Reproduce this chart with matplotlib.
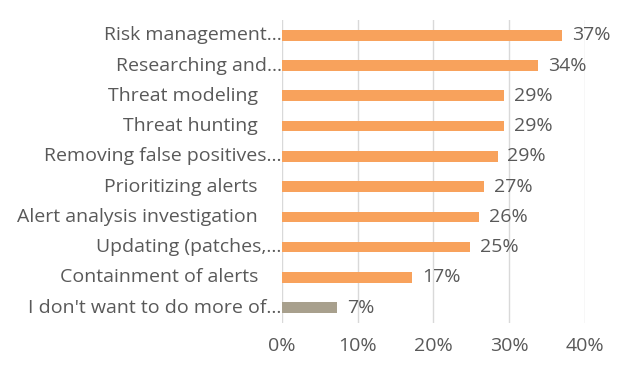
import matplotlib
matplotlib.use("Agg")
import matplotlib.pyplot as plt
import matplotlib.transforms as mtransforms

# Data (top to bottom)
categories = [
    "Risk management…",
    "Researching and…",
    "Threat modeling",
    "Threat hunting",
    "Removing false positives…",
    "Prioritizing alerts",
    "Alert analysis investigation",
    "Updating (patches,…",
    "Containment of alerts",
    "I don't want to do more of…",
]
values = [37.0, 33.9, 29.4, 29.4, 28.5, 26.7, 26.1, 24.9, 17.2, 7.3]
value_labels = ["37%", "34%", "29%", "29%", "29%", "27%", "26%", "25%", "17%", "7%"]
truncated = [True, True, False, False, True, False, False, True, False, True]
xticks = [0, 10, 20, 30, 40]
xtick_labels = ["0%", "10%", "20%", "30%", "40%"]

ORANGE = "#F8A25C"
GREY = "#A8A08D"
TEXT = "#595959"
FONT = "Open Sans"
FS = 14

fig = plt.figure(figsize=(6.25, 3.72), dpi=100)
ax = fig.add_axes([0.451, 0.132, 0.4843, 0.814])

n = len(categories)
ypos = list(range(n))
colors = [ORANGE] * (n - 1) + [GREY]
ax.barh(ypos, values, height=0.35, color=colors, zorder=3)

ax.set_xlim(0, 40)
ax.set_ylim(n - 0.5, -0.5)
ax.set_xticks(xticks)
ax.set_xticklabels(xtick_labels, fontsize=FS, color=TEXT, family=FONT)
ax.tick_params(axis="x", length=0, pad=10)
ax.set_yticks([])
ax.grid(axis="x", color="#D9D9D9", linewidth=1, zorder=0)
for s in ax.spines.values():
    s.set_visible(False)

# category labels (truncated ones run right up to the axis)
trans = mtransforms.blended_transform_factory(ax.transAxes, ax.transData)
for y, lab, tr in zip(ypos, categories, truncated):
    off = 0 if tr else -24
    t = ax.text(0, y, lab, transform=trans, ha="right", va="center",
                fontsize=FS, color=TEXT, family=FONT)
    t.set_transform(trans + mtransforms.ScaledTranslation(off / 100, 0, fig.dpi_scale_trans))

# value labels
for y, v, lab in zip(ypos, values, value_labels):
    ax.annotate(lab, xy=(v, y), xytext=(7, 0), textcoords="offset points",
                ha="left", va="center", fontsize=FS, color=TEXT, family=FONT)

fig.savefig("out.png", dpi=100)
